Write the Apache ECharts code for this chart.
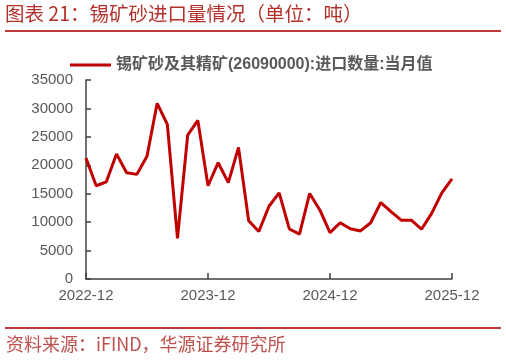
<!DOCTYPE html>
<html>
<head>
<meta charset="utf-8">
<script src="https://cdn.jsdelivr.net/npm/echarts@6/dist/echarts.min.js"></script>
<style>
html,body{margin:0;padding:0;background:#fff;}
#c{width:506px;height:362px;}
</style>
</head>
<body>
<div id="c"></div>
<script>
const categories = [
  '2022-12','2023-01','2023-02','2023-03','2023-04','2023-05','2023-06','2023-07','2023-08','2023-09','2023-10','2023-11',
  '2023-12','2024-01','2024-02','2024-03','2024-04','2024-05','2024-06','2024-07','2024-08','2024-09','2024-10','2024-11',
  '2024-12','2025-01','2025-02','2025-03','2025-04','2025-05','2025-06','2025-07','2025-08','2025-09','2025-10','2025-11',
  '2025-12'
];
const importVolume = [
  21300, 16400, 17100, 22000, 18700, 18400, 21600, 30900, 27200, 7150, 25300, 27900,
  16400, 20450, 16950, 23150, 10250, 8350, 12800, 15150, 8800, 7900, 15050, 12150,
  8150, 9900, 8850, 8450, 9900, 13450, 11850, 10350, 10350, 8750, 11550, 15150,
  17600
];
const seriesName = '锡矿砂及其精矿(26090000):进口数量:当月值';
const yTicks = { min: 0, max: 35000, interval: 5000 };
const shownLabels = ['2022-12','2023-12','2024-12','2025-12'];

const chart = echarts.init(document.getElementById('c'), null, {renderer: 'canvas'});
const labelIdx = new Set(shownLabels.map(l => categories.indexOf(l)));
chart.setOption({
  animation: false,
  backgroundColor: '#ffffff',
  textStyle: { fontFamily: 'Arial, "Liberation Sans", "Noto Sans CJK SC", sans-serif' },
  graphic: [
    { type: 'text', left: 5, top: 4, style: { text: '图表 21：锡矿砂进口量情况（单位：吨）', fill: '#B4302B', font: '19.5px "Noto Sans CJK SC", sans-serif' } },
    { type: 'rect', left: 5, top: 30, shape: { width: 496, height: 2 }, style: { fill: '#C0393A' } },
    { type: 'rect', left: 5, top: 327, shape: { width: 496, height: 2 }, style: { fill: '#C0393A' } },
    { type: 'text', left: 6, top: 335, style: { text: '资料来源：iFIND，华源证券研究所', fill: '#C0504D', font: '18px "Noto Sans CJK SC", sans-serif' } }
  ],
  legend: {
    data: [seriesName],
    left: 65,
    top: 52,
    icon: 'rect',
    itemWidth: 41,
    itemHeight: 3,
    textStyle: { color: '#595959', fontSize: 16, fontWeight: 'bold', fontFamily: 'Arial, "Noto Sans CJK SC", sans-serif' }
  },
  grid: { left: 86, right: 54, top: 80, bottom: 83, containLabel: false },
  xAxis: {
    type: 'category',
    data: categories,
    boundaryGap: false,
    axisLine: { lineStyle: { color: '#404040', width: 1.5 } },
    axisTick: { inside: true, length: 6, interval: (i) => labelIdx.has(i), lineStyle: { color: '#404040', width: 1.5 } },
    axisLabel: { interval: (i) => labelIdx.has(i), color: '#595959', fontSize: 15, margin: 9, fontFamily: 'Arial, "Liberation Sans", sans-serif' },
    splitLine: { show: false }
  },
  yAxis: {
    type: 'value',
    min: yTicks.min, max: yTicks.max, interval: yTicks.interval,
    axisLine: { show: true, lineStyle: { color: '#404040', width: 1.5 } },
    axisTick: { show: true, inside: true, length: 5, lineStyle: { color: '#404040', width: 1.5 } },
    axisLabel: { color: '#595959', fontSize: 15, margin: 13, formatter: (v) => String(v), fontFamily: 'Arial, "Liberation Sans", sans-serif' },
    splitLine: { show: false }
  },
  series: [{
    name: seriesName,
    type: 'line',
    data: importVolume,
    showSymbol: false,
    symbol: 'none',
    itemStyle: { color: '#C00000' },
    lineStyle: { color: '#C00000', width: 3 }
  }]
});
</script>
</body>
</html>
